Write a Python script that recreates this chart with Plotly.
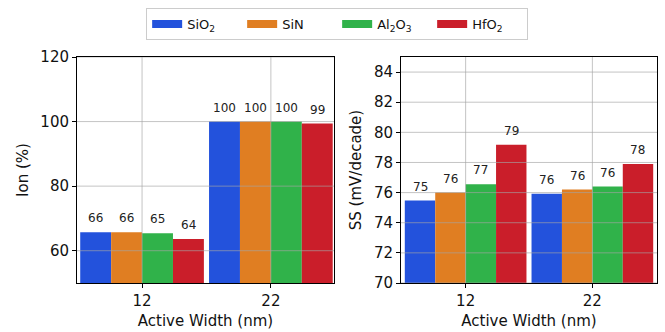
import plotly.graph_objects as go

categories = ["12", "22"]
materials = ["SiO<sub>2</sub>", "SiN", "Al<sub>2</sub>O<sub>3</sub>", "HfO<sub>2</sub>"]
colors = ["#2352DC", "#E07E22", "#30B24A", "#CA1E2A"]

ion_sio2 = [65.7, 100.0]
ion_sin = [65.7, 100.0]
ion_al2o3 = [65.4, 100.0]
ion_hfo2 = [63.6, 99.4]

ss_sio2 = [75.47, 75.93]
ss_sin = [76.0, 76.2]
ss_al2o3 = [76.56, 76.4]
ss_hfo2 = [79.17, 77.9]

ion_ticks = [60, 80, 100, 120]
ss_ticks = [70, 72, 74, 76, 78, 80, 82, 84]

ion_series = [ion_sio2, ion_sin, ion_al2o3, ion_hfo2]
ss_series = [ss_sio2, ss_sin, ss_al2o3, ss_hfo2]

BAR_W = 0.24
FONT = "DejaVu Sans"
GRID = "rgba(165,165,165,0.65)"

fig = go.Figure()
xpos = list(range(len(categories)))
annotations = []
shapes = []

for panel, (series, xa, ya) in enumerate([(ion_series, "x", "y"), (ss_series, "x2", "y2")]):
    for j, vals in enumerate(series):
        off = (j - len(series) / 2) * BAR_W
        fig.add_trace(go.Bar(
            x=xpos, y=vals, width=BAR_W, offset=off,
            marker=dict(color=colors[j], line=dict(width=0)),
            xaxis=xa, yaxis=ya, showlegend=False, name=materials[j],
        ))
        for i, v in enumerate(vals):
            annotations.append(dict(
                x=xpos[i] + off + BAR_W / 2, y=v, xref=xa, yref=ya,
                text=f"{v:.0f}", showarrow=False, yanchor="bottom",
                yshift=5, font=dict(family=FONT, size=12, color="#222"),
            ))

# legend entries
for j, name in enumerate(materials):
    fig.add_trace(go.Scatter(
        x=[None], y=[None], mode="lines", name=name,
        line=dict(color=colors[j], width=8), xaxis="x", yaxis="y",
    ))

# gridlines above bars
for ya, xa, ticks in [("y", "x", ion_ticks), ("y2", "x2", ss_ticks)]:
    for t in ticks:
        shapes.append(dict(type="line", xref=f"{xa} domain", yref=ya, x0=0, x1=1, y0=t, y1=t,
                           line=dict(color=GRID, width=1), layer="above"))
    for i in xpos:
        shapes.append(dict(type="line", xref=xa, yref=f"{ya} domain", x0=i, x1=i, y0=0, y1=1,
                           line=dict(color=GRID, width=1), layer="above"))

W, H = 665, 332
axis_common = dict(showline=True, linecolor="black", linewidth=1, mirror=True,
                   ticks="outside", ticklen=4, tickcolor="black", showgrid=False,
                   zeroline=False, tickfont=dict(family=FONT, size=15, color="#111"),
                   automargin=False)
title_font = dict(family=FONT, size=15, color="#111")

fig.update_layout(
    width=W, height=H,
    margin=dict(l=0, r=0, t=0, b=0),
    paper_bgcolor="white", plot_bgcolor="white",
    font=dict(family=FONT, color="#111"),
    barmode="overlay",
    xaxis=dict(domain=[77 / W, 334 / W], range=[-0.505, 1.49], tickvals=xpos, ticktext=categories,
               title=dict(text="Active Width (nm)", font=title_font, standoff=6),
               anchor="y", **axis_common),
    yaxis=dict(domain=[1 - 283 / H, 1 - 57 / H], range=[50, 120], tickvals=ion_ticks,
               title=dict(text="Ion (%)", font=title_font, standoff=8),
               anchor="x", **axis_common),
    xaxis2=dict(domain=[401 / W, 657 / W], range=[-0.51, 1.51], tickvals=xpos, ticktext=categories,
                title=dict(text="Active Width (nm)", font=title_font, standoff=6),
                anchor="y2", **axis_common),
    yaxis2=dict(domain=[1 - 283 / H, 1 - 57 / H], range=[70, 85], tickvals=ss_ticks,
                title=dict(text="SS (mV/decade)", font=title_font, standoff=8),
                anchor="x2", **axis_common),
    legend=dict(orientation="h", x=0.507, xanchor="center", y=1 - 8 / H, yanchor="top",
                bordercolor="#cccccc", borderwidth=1, bgcolor="white",
                font=dict(family=FONT, size=13, color="#111"), itemwidth=30,
                entrywidth=50, entrywidthmode="pixels"),
    annotations=annotations,
    shapes=shapes,
)

fig.write_html("out.html")
